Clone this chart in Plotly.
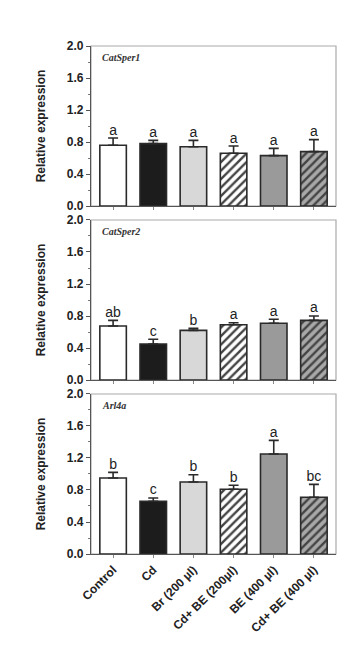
import plotly.graph_objects as go
from plotly.subplots import make_subplots

categories = ["Control", "Cd", "Br (200 µl)", "Cd+ BE (200µl)", "BE (400 µl)", "Cd+ BE (400 µl)"]
genes = ["CatSper1", "CatSper2", "Arl4a"]

catsper1_mean = [0.76, 0.78, 0.74, 0.66, 0.63, 0.68]
catsper1_err = [0.09, 0.04, 0.08, 0.09, 0.09, 0.15]
catsper1_sig = ["a", "a", "a", "a", "a", "a"]

catsper2_mean = [0.675, 0.45, 0.62, 0.69, 0.71, 0.745]
catsper2_err = [0.07, 0.06, 0.025, 0.025, 0.05, 0.055]
catsper2_sig = ["ab", "c", "b", "a", "a", "a"]

arl4a_mean = [0.95, 0.66, 0.90, 0.81, 1.25, 0.71]
arl4a_err = [0.07, 0.04, 0.09, 0.05, 0.17, 0.16]
arl4a_sig = ["b", "c", "b", "b", "a", "bc"]

tick_vals = [0.0, 0.4, 0.8, 1.2, 1.6, 2.0]
tick_text = ["0.0", "0.4", "0.8", "1.2", "1.6", "2.0"]

fills = ["#ffffff", "#1c1c1c", "#d8d8d8", "#ffffff", "#9a9a9a", "#a8a8a8"]
hatch = ["", "", "", "/", "", "/"]

panels = [
    (catsper1_mean, catsper1_err, catsper1_sig),
    (catsper2_mean, catsper2_err, catsper2_sig),
    (arl4a_mean, arl4a_err, arl4a_sig),
]

fig = make_subplots(rows=3, cols=1, shared_xaxes=False, vertical_spacing=0.0275)
domains = [[0.685, 1.0], [0.3425, 0.6575], [0.0, 0.315]]

for i, (mean, err, sig) in enumerate(panels):
    r = i + 1
    fig.add_trace(go.Bar(
        x=categories, y=mean,
        marker=dict(color=fills, line=dict(color="#2a2a2a", width=1.6),
                    pattern=dict(shape=hatch, fgcolor="#111111", fgopacity=1,
                                 size=6, solidity=0.4, fillmode="overlay")),
        error_y=dict(type="data", array=err, arrayminus=[0]*6, symmetric=False,
                     color="#2a2a2a", thickness=1.6, width=5),
        width=0.66, showlegend=False,
    ), row=r, col=1)
    fig.add_trace(go.Scatter(
        x=categories, y=[m + e for m, e in zip(mean, err)], text=sig,
        mode="text", textposition="top center",
        textfont=dict(family="Arial, Liberation Sans", size=14, color="#222"),
        showlegend=False, cliponaxis=False,
    ), row=r, col=1)
    xa = "xaxis" if r == 1 else f"xaxis{r}"
    ya = "yaxis" if r == 1 else f"yaxis{r}"
    fig.layout[ya].update(
        domain=domains[i], range=[0, 2.0], tickvals=tick_vals, ticktext=tick_text,
        ticks="outside", ticklen=4, tickwidth=1, tickcolor="#555",
        showline=True, linecolor="#555", linewidth=1.2, showgrid=False, zeroline=False,
        minor=dict(dtick=0.2, ticks="outside", ticklen=2, tickcolor="#777", showgrid=False),
        tickfont=dict(family="Arial, Liberation Sans", size=12, color="#222", weight="bold"),
        title=dict(text="Relative expression", standoff=18,
                   font=dict(family="Arial, Liberation Sans", size=12, color="#222", weight="bold")),
    )
    fig.layout[xa].update(
        showline=True, linecolor="#555", linewidth=1.2, showgrid=False,
        ticks="outside", ticklen=3, tickcolor="#888",
        showticklabels=(r == 3), tickangle=-45,
        tickfont=dict(family="Arial, Liberation Sans", size=12, color="#222", weight="bold"),
        range=[-0.55, 5.55],
    )
    xref = "x" if r == 1 else f"x{r}"
    fig.add_shape(type="rect", xref=f"{xref} domain", yref=f"y{'' if r == 1 else r} domain",
                  x0=0, x1=1, y0=0, y1=1, line=dict(color="#aaaaaa", width=1.2), layer="below")
    fig.add_annotation(text=f"<i><b>{genes[i]}</b></i>", xref=f"{xref} domain",
                       yref=f"y{'' if r == 1 else r} domain", x=0.035, y=0.93,
                       xanchor="left", yanchor="middle", showarrow=False,
                       font=dict(family="Liberation Serif, Times New Roman", size=10, color="#333"))

fig.update_layout(
    width=347, height=650, bargap=0.34,
    margin=dict(l=83, r=19, t=38, b=104),
    plot_bgcolor="white", paper_bgcolor="white",
)

fig.write_html("out.html")
